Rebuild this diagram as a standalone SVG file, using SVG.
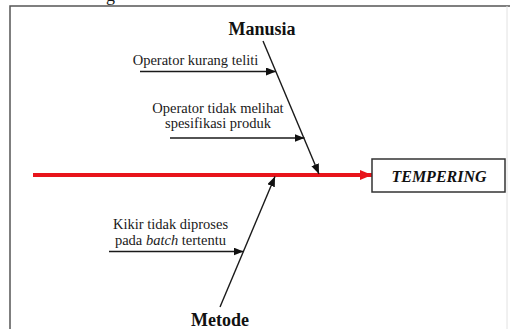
<svg xmlns="http://www.w3.org/2000/svg" width="510" height="329" viewBox="0 0 510 329">
<style>
.t{font-family:"Liberation Serif","Times New Roman",serif;font-size:14.5px;fill:#1a1a1a}
.h{font-family:"Liberation Serif","Times New Roman",serif;font-size:18px;font-weight:bold;fill:#111}
.ln{stroke:#1a1a1a;stroke-width:1.4;fill:none}
.frame{stroke:#555;stroke-width:1.5;fill:none}
</style>
<defs>
<marker id="ah" viewBox="0 0 10 8" refX="10" refY="4" markerWidth="10" markerHeight="8" markerUnits="userSpaceOnUse" orient="auto">
<path d="M0,0 L10,4 L0,8 z" fill="#111"/>
</marker>
<marker id="ahr" viewBox="0 0 12 10" refX="12" refY="5" markerWidth="12" markerHeight="10" markerUnits="userSpaceOnUse" orient="auto">
<path d="M0,0 L12,5 L0,10 z" fill="#e8141b"/>
</marker>
</defs>
<rect width="510" height="329" fill="#fff"/>
<text x="106" y="0.5" class="t" style="font-size:18px">g</text>
<path class="frame" d="M10,329 L10,6 L510,6"/>
<line x1="507" y1="6" x2="507" y2="329" stroke="#e2e2e2" stroke-width="1"/>
<g id="connectors">
<line x1="33" y1="175" x2="372" y2="175" stroke="#e8141b" stroke-width="4" marker-end="url(#ahr)"/>
<line class="ln" x1="263" y1="41" x2="319" y2="174" marker-end="url(#ah)"/>
<line class="ln" x1="220" y1="307" x2="275" y2="176.5" marker-end="url(#ah)"/>
<line class="ln" x1="140" y1="71.5" x2="276" y2="71.5" marker-end="url(#ah)"/>
<line class="ln" x1="170" y1="138" x2="304.5" y2="138" marker-end="url(#ah)"/>
<line class="ln" x1="109" y1="251.5" x2="243.5" y2="251.5" marker-end="url(#ah)"/>
</g>
<g id="tempering">
<rect x="372" y="159" width="133" height="33" fill="#fff" stroke="#333" stroke-width="1.5"/>
<text x="439" y="182" text-anchor="middle" class="h" style="font-size:16px;font-style:italic">TEMPERING</text>
</g>
<g id="manusia">
<text x="262" y="35" text-anchor="middle" class="h">Manusia</text>
</g>
<g id="metode">
<text x="220" y="326" text-anchor="middle" class="h">Metode</text>
</g>
<g id="cause1">
<text x="195.5" y="64.5" text-anchor="middle" class="t">Operator kurang teliti</text>
</g>
<g id="cause2">
<text x="218" y="112.5" text-anchor="middle" class="t">Operator tidak melihat</text>
<text x="218" y="128" text-anchor="middle" class="t">spesifikasi produk</text>
</g>
<g id="cause3">
<text x="170.5" y="229" text-anchor="middle" class="t">Kikir tidak diproses</text>
<text x="170.5" y="244.5" text-anchor="middle" class="t">pada <tspan font-style="italic">batch</tspan> tertentu</text>
</g>
</svg>
